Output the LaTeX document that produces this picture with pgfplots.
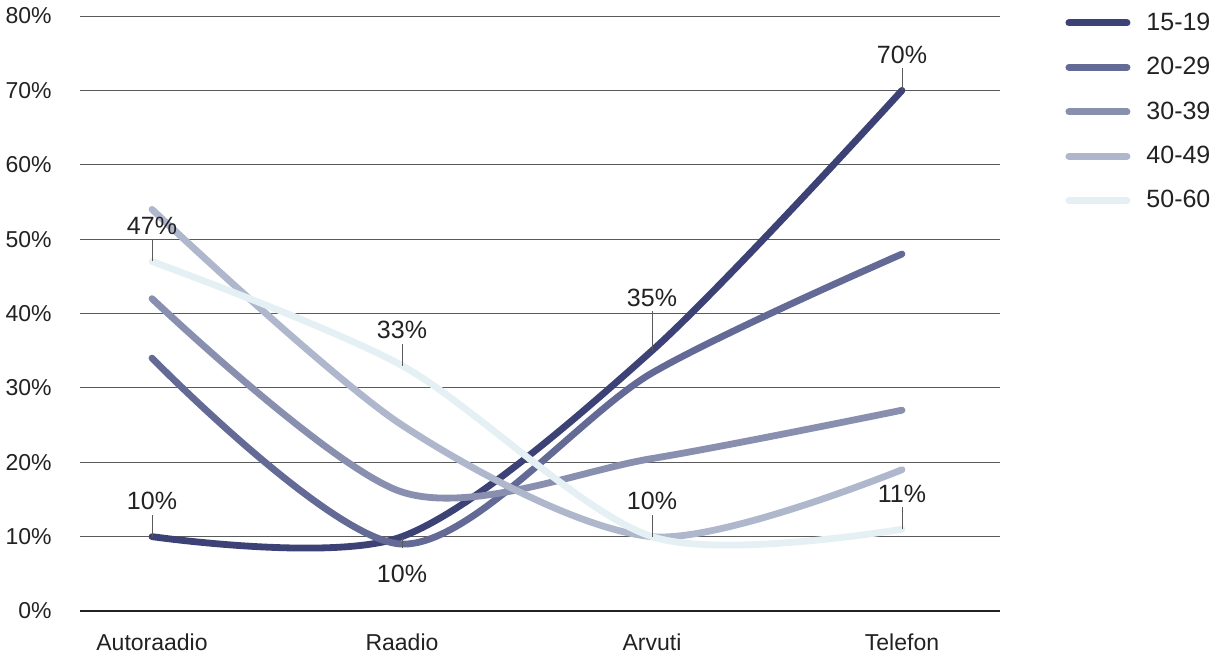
\documentclass[border=0pt]{standalone}
\usepackage{fontspec}
\setmainfont{Liberation Sans}
\usepackage{pgfplots}
\pgfplotsset{compat=1.18}

\definecolor{cA}{HTML}{3C4275}
\definecolor{cB}{HTML}{636A95}
\definecolor{cC}{HTML}{898FAF}
\definecolor{cD}{HTML}{AFB7CD}
\definecolor{cE}{HTML}{E5F0F4}
\definecolor{txt}{HTML}{222222}
\definecolor{gridc}{HTML}{5A5A5A}

\newcommand{\tickfont}{\fontsize{11.5}{13}\selectfont}
\newcommand{\labfont}{\fontsize{12.5}{14}\selectfont}

\begin{document}
\begin{tikzpicture}
\path[use as bounding box] (0pt,0pt) rectangle (609.5pt,-328.5pt);
\begin{axis}[
    at={(40pt,-305.5pt)}, anchor=south west,
    scale only axis,
    width=460pt, height=297.5pt,
    xmin=-0.288, xmax=3.392,
    ymin=0, ymax=80,
    clip=false,
    axis x line=bottom, axis y line=left,
    y axis line style={draw=none},
    x axis line style={-, line width=1.4pt, color=txt},
    major tick length=0pt,
    xtick={0,1,2,3},
    xticklabels={Autoraadio,Raadio,Arvuti,Telefon},
    ytick={0,10,...,80},
    yticklabels={0\%,10\%,20\%,30\%,40\%,50\%,60\%,70\%,80\%},
    ymajorgrids,
    grid style={line width=0.5pt, color=gridc},
    tick label style={font=\tickfont, text=txt},
    xticklabel style={anchor=north, inner sep=0pt, yshift=-11pt},
    yticklabel style={anchor=east, inner sep=0pt, xshift=-14pt},
    legend style={at={(1.0707,1.013)}, anchor=north west, draw=none, fill=none,
        inner sep=0pt, font=\labfont, text=txt, row sep=8pt,
        /tikz/every odd column/.append style={column sep=6pt}},
    legend cell align=left,
    legend image code/.code={\draw[line width=3.5pt, line cap=round] (1.75pt,0pt) -- (30.75pt,0pt);},
    every axis plot/.append style={line width=3.4pt, line cap=round, smooth, no markers},
]
\addplot[color=cA] coordinates {(0,10) (1,10) (2,35) (3,70)};
\addlegendentry{15-19}
\addplot[color=cB] coordinates {(0,34) (1,9) (2,32) (3,48)};
\addlegendentry{20-29}
\addplot[color=cC] coordinates {(0,42) (1,16) (2,20.5) (3,27)};
\addlegendentry{30-39}
\addplot[color=cD] coordinates {(0,54) (1,25) (2,10) (3,19)};
\addlegendentry{40-49}
\addplot[color=cE] coordinates {(0,47) (1,33) (2,10) (3,11)};
\addlegendentry{50-60}

\draw[line width=0.5pt, color=gridc] (axis cs:0,47) -- ++(0pt,11pt);
\node[anchor=base, font=\labfont, text=txt, inner sep=0pt, yshift=13.5pt] at (axis cs:0,47) {47\%};
\draw[line width=0.5pt, color=gridc] (axis cs:0,10) -- ++(0pt,11pt);
\node[anchor=base, font=\labfont, text=txt, inner sep=0pt, yshift=13.5pt] at (axis cs:0,10) {10\%};
\draw[line width=0.5pt, color=gridc] (axis cs:1,33) -- ++(0pt,11pt);
\node[anchor=base, font=\labfont, text=txt, inner sep=0pt, yshift=13.5pt] at (axis cs:1,33) {33\%};
\draw[line width=0.5pt, color=gridc] (axis cs:1,10) -- ++(0pt,-5.5pt);
\node[anchor=north, font=\labfont, text=txt, inner sep=0pt, yshift=-14pt] at (axis cs:1,10) {10\%};
\draw[line width=0.5pt, color=gridc] (axis cs:2,35) -- ++(0pt,20pt);
\node[anchor=base, font=\labfont, text=txt, inner sep=0pt, yshift=22pt] at (axis cs:2,35) {35\%};
\draw[line width=0.5pt, color=gridc] (axis cs:2,10) -- ++(0pt,11pt);
\node[anchor=base, font=\labfont, text=txt, inner sep=0pt, yshift=13.5pt] at (axis cs:2,10) {10\%};
\draw[line width=0.5pt, color=gridc] (axis cs:3,70) -- ++(0pt,11pt);
\node[anchor=base, font=\labfont, text=txt, inner sep=0pt, yshift=13.5pt] at (axis cs:3,70) {70\%};
\draw[line width=0.5pt, color=gridc] (axis cs:3,11) -- ++(0pt,11pt);
\node[anchor=base, font=\labfont, text=txt, inner sep=0pt, yshift=13.5pt] at (axis cs:3,11) {11\%};
\end{axis}
\end{tikzpicture}
\end{document}
